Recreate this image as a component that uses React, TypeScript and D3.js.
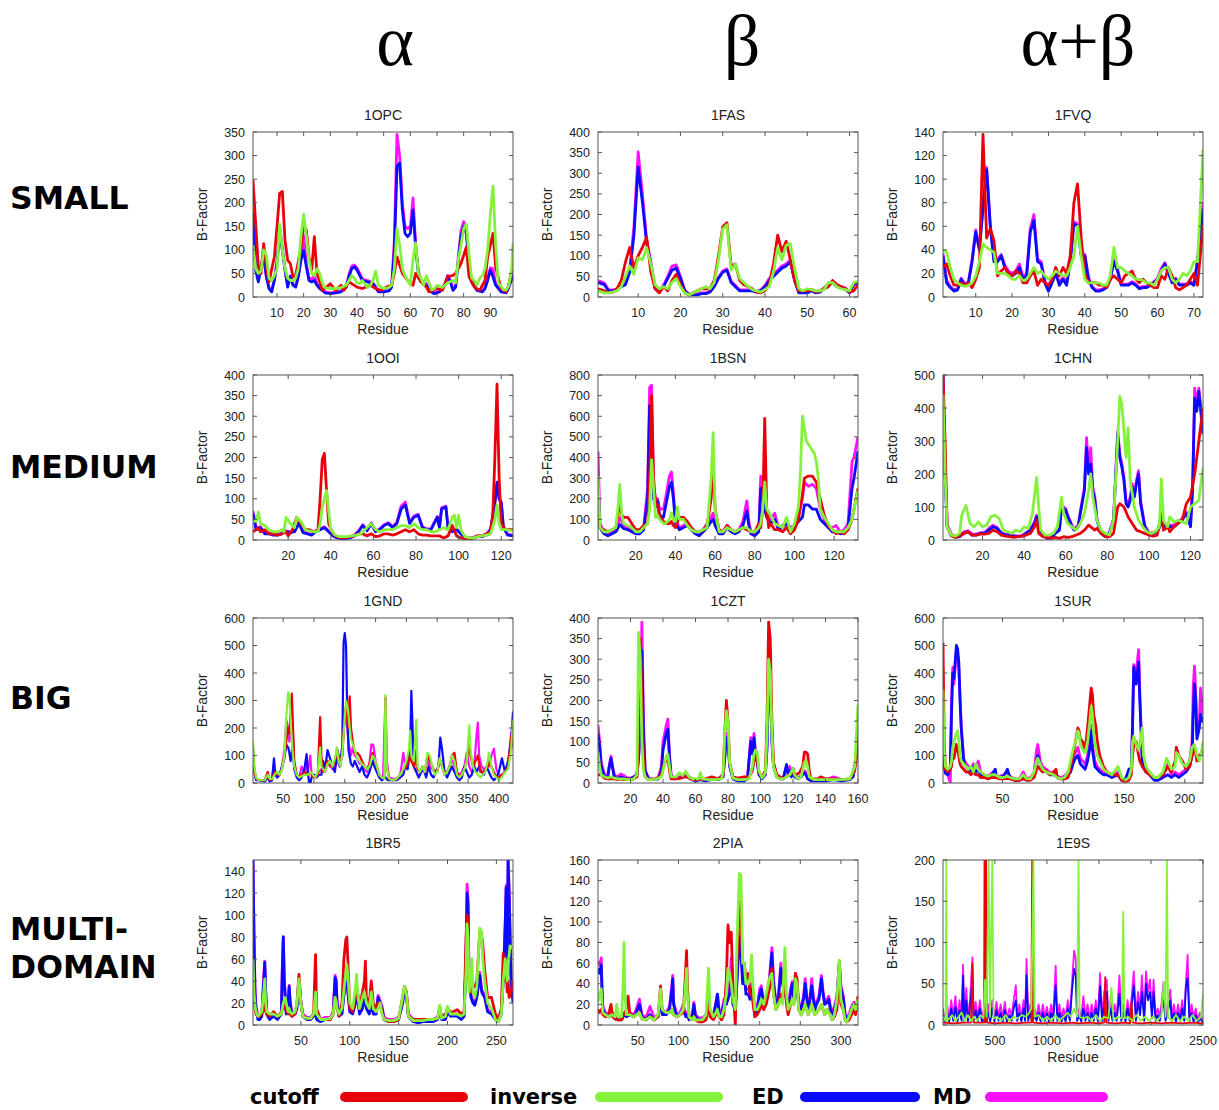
import React from 'react';
import * as d3 from 'd3';

// ---------- panel meta ----------
const PANEL_NAMES = ['1OPC', '1FAS', '1FVQ', '1OOI', '1BSN', '1CHN', '1GND', '1CZT', '1SUR', '1BR5', '2PIA', '1E9S'];
const X_DOMAINS = [[1, 98.5], [0.5, 62], [1, 72.5], [3.5, 125.5], [1, 132], [1, 126], [1, 423], [0, 160], [1, 215], [1, 267], [1, 321], [1, 2500]];
const Y_MAX = [350, 400, 140, 400, 800, 500, 600, 400, 600, 150, 160, 200];
const Y_TICKS = [
  [0, 50, 100, 150, 200, 250, 300, 350],
  [0, 50, 100, 150, 200, 250, 300, 350, 400],
  [0, 20, 40, 60, 80, 100, 120, 140],
  [0, 50, 100, 150, 200, 250, 300, 350, 400],
  [0, 100, 200, 300, 400, 500, 600, 700, 800],
  [0, 100, 200, 300, 400, 500],
  [0, 100, 200, 300, 400, 500, 600],
  [0, 50, 100, 150, 200, 250, 300, 350, 400],
  [0, 100, 200, 300, 400, 500, 600],
  [0, 20, 40, 60, 80, 100, 120, 140],
  [0, 20, 40, 60, 80, 100, 120, 140, 160],
  [0, 50, 100, 150, 200],
];
const X_TICKS = [
  [10, 20, 30, 40, 50, 60, 70, 80, 90],
  [10, 20, 30, 40, 50, 60],
  [10, 20, 30, 40, 50, 60, 70],
  [20, 40, 60, 80, 100, 120],
  [20, 40, 60, 80, 100, 120],
  [20, 40, 60, 80, 100, 120],
  [50, 100, 150, 200, 250, 300, 350, 400],
  [20, 40, 60, 80, 100, 120, 140, 160],
  [50, 100, 150, 200],
  [50, 100, 150, 200, 250],
  [50, 100, 150, 200, 250, 300],
  [500, 1000, 1500, 2000, 2500],
];
const COLUMN_HEADERS = ['α', 'β', 'α+β'];
const ROW_LABELS = [['SMALL'], ['MEDIUM'], ['BIG'], ['MULTI-', 'DOMAIN']];
const LEGEND_LABELS = ['cutoff', 'inverse', 'ED', 'MD'];

// ---------- series (residue, B-factor) pairs ----------
// 1OPC
const OPC_CUT = [1,248, 3,64, 4,50, 5,113, 6,64, 7,32, 9,85, 10,149, 11,220, 12,224, 13,120, 14,78, 15,71, 16,43, 17,46, 19,106, 20,149, 21,142, 22,85, 23,57, 24,128, 25,50, 26,32, 27,14, 30,28, 32,14, 34,25, 35,14, 37,32, 40,21, 42,18, 45,25, 47,18, 49,14, 51,21, 53,25, 54,50, 55,85, 57,50, 59,35, 61,25, 62,50, 64,32, 66,21, 67,11, 70,18, 72,14, 74,43, 76,46, 77,50, 79,71, 81,106, 82,43, 84,21, 86,14, 88,35, 89,85, 91,135, 92,64, 94,18, 96,11, 97,28, 98.5,67];
const OPC_INV = [1,110, 2,60, 3,50, 4,55, 5,100, 6,90, 7,40, 8,35, 9,45, 10,60, 11,155, 12,100, 13,60, 14,40, 15,35, 16,35, 17,40, 18,60, 19,130, 20,175, 21,130, 22,80, 23,50, 24,45, 25,60, 26,50, 27,30, 28,20, 30,18, 32,18, 34,20, 36,25, 37,35, 38,45, 39,40, 40,30, 41,28, 42,35, 44,20, 45,25, 46,35, 47,55, 48,25, 50,18, 52,20, 53,25, 54,60, 55,145, 56,110, 57,60, 58,45, 59,35, 60,25, 61,80, 62,115, 63,50, 64,40, 65,25, 66,45, 67,30, 68,15, 69,18, 70,25, 72,20, 74,30, 76,35, 77,30, 78,80, 79,110, 80,145, 81,155, 82,90, 83,40, 84,35, 85,25, 86,40, 87,45, 88,60, 89,100, 90,175, 91,235, 92,110, 93,30, 95,15, 96,15, 97,25, 98,60, 98.5,115];
const OPC_ED = [1,177, 2,57, 3,32, 4,64, 5,85, 6,43, 7,18, 8,11, 9,35, 10,71, 11,135, 12,99, 13,57, 14,21, 15,43, 16,25, 17,21, 18,43, 19,78, 20,99, 21,64, 22,35, 23,32, 24,35, 25,25, 26,18, 28,9, 30,7, 32,9, 34,11, 36,21, 37,43, 38,60, 39,64, 40,57, 41,46, 42,35, 44,32, 46,28, 48,11, 50,11, 52,13, 53,21, 54,99, 55,277, 56,284, 57,185, 58,135, 59,128, 60,135, 61,185, 62,106, 63,50, 64,32, 66,25, 67,14, 69,7, 71,11, 73,25, 74,43, 75,32, 76,14, 77,21, 78,78, 79,128, 80,149, 81,135, 82,64, 83,32, 85,14, 87,11, 88,18, 89,35, 90,57, 91,43, 92,25, 94,11, 96,9, 97,21, 98.5,46];
const OPC_MD = [1,200, 2,62, 3,36, 4,68, 5,90, 6,46, 7,20, 8,13, 9,38, 10,76, 11,150, 12,104, 13,60, 14,24, 15,45, 16,27, 17,23, 18,46, 19,85, 20,130, 21,70, 22,40, 23,38, 24,45, 25,28, 26,20, 28,11, 30,9, 32,11, 34,13, 36,24, 37,48, 38,65, 39,68, 40,62, 41,50, 42,38, 44,35, 46,30, 48,13, 50,13, 52,15, 53,24, 54,120, 55,345, 56,300, 57,200, 58,150, 59,145, 60,150, 61,210, 62,110, 63,55, 64,35, 66,28, 67,16, 69,9, 71,13, 73,28, 74,46, 75,35, 76,16, 77,24, 78,85, 79,140, 80,160, 81,150, 82,70, 83,35, 85,16, 87,13, 88,20, 89,40, 90,62, 91,60, 92,28, 94,13, 96,11, 97,24, 98.5,70];
// 1FAS
const FAS_CUT = [0.5,20, 2,15, 3,10, 4,12, 5,20, 6,40, 7,85, 8,120, 9,70, 10,100, 11,120, 12,145, 13,60, 14,20, 15,10, 16,25, 17,15, 18,40, 19,55, 20,30, 21,10, 22,5, 23,10, 24,15, 25,20, 26,20, 27,20, 28,40, 29,100, 30,170, 31,180, 32,75, 33,80, 34,40, 35,30, 36,25, 37,20, 38,12, 39,10, 40,15, 41,30, 42,80, 43,150, 44,110, 45,135, 46,90, 47,40, 48,15, 49,15, 50,15, 51,18, 52,12, 53,15, 54,20, 55,25, 56,40, 57,30, 58,25, 59,20, 60,12, 61,15, 62,30];
const FAS_INV = [0.5,15, 2,10, 3,10, 4,12, 5,15, 6,25, 7,50, 8,75, 9,55, 10,95, 11,90, 12,120, 13,80, 14,30, 15,20, 16,25, 17,20, 18,35, 19,45, 20,25, 21,10, 22,5, 23,10, 24,15, 25,20, 26,25, 27,20, 28,35, 29,90, 30,165, 31,175, 32,65, 33,80, 34,45, 35,35, 36,25, 37,18, 38,15, 39,12, 40,18, 41,25, 42,60, 43,120, 44,90, 45,125, 46,130, 47,70, 48,20, 49,15, 50,20, 51,18, 52,15, 53,15, 54,18, 55,35, 56,35, 57,25, 58,20, 59,18, 60,15, 61,35, 62,38];
const FAS_ED = [0.5,35, 2,30, 3,15, 4,15, 5,18, 6,25, 7,30, 8,60, 9,150, 10,315, 11,230, 12,130, 13,80, 14,20, 15,15, 16,25, 17,45, 18,65, 19,70, 20,45, 21,15, 22,5, 23,5, 24,5, 25,8, 26,8, 27,12, 28,25, 29,45, 30,60, 31,65, 32,35, 33,25, 34,15, 35,15, 36,15, 37,15, 38,12, 39,15, 40,25, 41,40, 42,50, 43,60, 44,70, 45,75, 46,85, 47,40, 48,10, 49,10, 50,10, 51,15, 52,10, 53,12, 54,20, 55,30, 56,35, 57,25, 58,22, 59,20, 60,10, 61,30, 62,35];
const FAS_MD = [0.5,40, 2,34, 3,17, 4,17, 5,20, 6,28, 7,33, 8,65, 9,170, 10,352, 11,250, 12,140, 13,85, 14,22, 15,17, 16,28, 17,50, 18,75, 19,78, 20,50, 21,17, 22,7, 23,7, 24,7, 25,10, 26,10, 27,14, 28,28, 29,48, 30,63, 31,68, 32,38, 33,28, 34,17, 35,17, 36,17, 37,17, 38,14, 39,17, 40,28, 41,45, 42,55, 43,65, 44,75, 45,80, 46,90, 47,43, 48,12, 49,12, 50,12, 51,17, 52,12, 53,14, 54,22, 55,33, 56,38, 57,28, 58,25, 59,22, 60,12, 61,32, 62,37];
// 1FVQ
const FVQ_CUT = [1,25, 2,28, 3,18, 4,10, 5,10, 6,12, 7,10, 8,12, 9,8, 10,15, 11,25, 12,138, 13,50, 14,58, 15,48, 16,18, 17,22, 18,25, 19,20, 20,18, 21,22, 22,20, 23,12, 24,12, 25,18, 26,22, 27,10, 28,15, 29,12, 30,10, 31,15, 32,25, 33,18, 34,25, 35,20, 36,35, 37,80, 38,96, 39,50, 40,20, 41,12, 42,12, 43,12, 44,10, 45,10, 46,8, 47,15, 48,18, 49,15, 50,12, 51,18, 52,20, 53,22, 54,15, 55,12, 56,15, 57,12, 58,10, 59,8, 60,8, 61,18, 62,15, 63,25, 64,18, 65,8, 66,6, 67,8, 68,10, 69,15, 70,20, 71,10, 72.5,60];
const FVQ_INV = [1,40, 2,38, 3,25, 4,15, 5,12, 6,10, 7,9, 8,10, 9,12, 10,18, 11,30, 12,45, 13,42, 14,40, 15,38, 16,20, 17,20, 18,20, 19,18, 20,15, 21,15, 22,18, 23,14, 24,15, 25,20, 26,25, 27,20, 28,22, 29,18, 30,15, 31,18, 32,22, 33,20, 34,18, 35,18, 36,25, 37,35, 38,60, 39,35, 40,15, 41,12, 42,12, 43,12, 44,12, 45,10, 46,10, 47,18, 48,42, 49,25, 50,25, 51,22, 52,20, 53,18, 54,15, 55,15, 56,14, 57,12, 58,12, 59,10, 60,15, 61,22, 62,25, 63,25, 64,15, 65,12, 66,15, 67,20, 68,18, 69,22, 70,30, 71,30, 72.5,125];
const FVQ_ED = [1,35, 2,12, 3,8, 4,5, 5,6, 6,15, 7,10, 8,12, 9,30, 10,55, 11,40, 12,75, 13,108, 14,60, 15,30, 16,30, 17,35, 18,25, 19,20, 20,18, 21,20, 22,25, 23,15, 24,18, 25,55, 26,65, 27,30, 28,28, 29,12, 30,5, 31,12, 32,20, 33,10, 34,15, 35,10, 36,30, 37,62, 38,60, 39,35, 40,35, 41,15, 42,8, 43,5, 44,5, 45,6, 46,8, 47,15, 48,30, 49,22, 50,10, 51,10, 52,10, 53,12, 54,10, 55,7, 56,8, 57,8, 58,10, 59,12, 60,15, 61,22, 62,28, 63,20, 64,12, 65,15, 66,10, 67,10, 68,10, 69,12, 70,10, 71,30, 72.5,75];
const FVQ_MD = [1,37, 2,14, 3,9, 4,6, 5,7, 6,16, 7,11, 8,13, 9,32, 10,57, 11,42, 12,78, 13,110, 14,62, 15,32, 16,32, 17,36, 18,27, 19,22, 20,20, 21,22, 22,28, 23,17, 24,20, 25,58, 26,70, 27,32, 28,30, 29,14, 30,7, 31,14, 32,22, 33,12, 34,17, 35,12, 36,32, 37,64, 38,62, 39,37, 40,36, 41,17, 42,9, 43,6, 44,6, 45,7, 46,9, 47,16, 48,32, 49,24, 50,11, 51,11, 52,11, 53,13, 54,11, 55,8, 56,9, 57,9, 58,11, 59,13, 60,16, 61,24, 62,29, 63,21, 64,13, 65,16, 66,11, 67,11, 68,11, 69,13, 70,11, 71,32, 72.5,80];
// 1OOI
const OOI_CUT = [3.5,20, 5,25, 6,30, 7,20, 9,25, 11,15, 13,15, 15,12, 17,15, 19,20, 20,10, 22,25, 24,55, 26,40, 28,25, 30,25, 32,20, 34,25, 35,100, 36,195, 37,210, 38,120, 39,40, 41,15, 43,8, 45,5, 47,5, 49,8, 51,10, 53,15, 55,15, 57,10, 59,15, 61,8, 63,10, 65,15, 67,15, 69,12, 71,15, 73,20, 75,25, 77,20, 79,25, 81,15, 83,12, 85,12, 87,10, 89,10, 91,10, 93,5, 95,10, 97,35, 99,10, 101,5, 103,3, 105,3, 107,5, 109,10, 111,10, 113,15, 115,20, 116,60, 117,200, 118,378, 119,150, 120,40, 122,25, 125.5,25];
const OOI_INV = [3.5,45, 5,45, 6,68, 7,40, 9,35, 11,25, 13,20, 15,20, 17,25, 18,20, 19,55, 21,40, 23,30, 24,55, 26,45, 28,25, 30,22, 32,20, 34,20, 35,40, 36,80, 37,100, 38,120, 39,70, 40,25, 42,12, 44,8, 46,8, 48,8, 50,10, 52,12, 54,15, 56,25, 58,35, 59,40, 61,25, 63,20, 65,25, 67,25, 69,25, 71,30, 73,35, 75,35, 77,30, 79,40, 81,30, 83,25, 85,25, 87,20, 89,20, 91,25, 93,30, 95,25, 97,55, 98,60, 99,30, 100,60, 101,25, 103,8, 105,5, 107,5, 109,8, 111,10, 113,12, 115,15, 117,50, 118,85, 119,40, 120,25, 122,25, 125.5,22];
const OOI_ED = [3.5,65, 5,25, 7,30, 9,15, 11,15, 13,12, 15,12, 17,15, 19,20, 21,18, 23,20, 25,40, 27,18, 29,15, 31,12, 33,20, 35,25, 37,30, 39,20, 41,10, 43,5, 45,3, 47,3, 49,5, 51,10, 53,20, 55,35, 57,22, 59,40, 61,20, 63,25, 65,35, 67,40, 69,30, 71,40, 73,75, 75,85, 77,40, 79,55, 81,60, 83,30, 85,25, 87,25, 89,45, 90,55, 91,30, 92,75, 94,80, 95,30, 97,20, 99,25, 101,15, 103,5, 105,3, 107,5, 109,8, 111,8, 113,12, 115,25, 117,90, 118,140, 119,100, 120,90, 121,30, 123,12, 125.5,10];
const OOI_MD = [3.5,70, 5,28, 7,32, 9,17, 11,17, 13,14, 15,14, 17,17, 19,22, 21,20, 23,22, 25,43, 27,20, 29,17, 31,14, 33,22, 35,27, 37,32, 39,22, 41,12, 43,7, 45,5, 47,5, 49,7, 51,12, 53,22, 55,37, 57,24, 59,42, 61,22, 63,27, 65,37, 67,42, 69,32, 71,43, 73,82, 75,92, 77,43, 79,58, 81,62, 83,32, 85,27, 87,27, 89,47, 90,57, 91,32, 92,78, 94,82, 95,32, 97,22, 99,27, 101,17, 103,7, 105,5, 107,7, 109,10, 111,10, 113,14, 115,27, 117,92, 118,135, 119,100, 120,92, 121,32, 123,14, 125.5,12];
// 1BSN
const BSN_CUT = [1,160, 2,60, 4,50, 6,40, 8,50, 10,60, 12,180, 13,120, 14,110, 16,110, 18,80, 20,50, 22,50, 24,70, 26,80, 27,300, 28,700, 29,300, 30,180, 31,170, 32,120, 34,90, 35,80, 37,80, 38,90, 39,70, 40,60, 42,110, 44,110, 46,90, 48,60, 50,40, 52,40, 54,50, 56,70, 58,200, 59,370, 60,150, 62,50, 64,40, 66,70, 68,50, 70,40, 72,50, 74,60, 76,50, 78,40, 80,40, 82,80, 83,60, 84,150, 85,590, 86,150, 87,60, 88,80, 90,50, 92,50, 94,40, 96,60, 98,30, 100,50, 102,100, 104,220, 105,300, 107,310, 109,310, 111,280, 113,200, 115,120, 117,70, 119,50, 121,30, 123,40, 125,30, 127,50, 129,100, 130,150, 132,250];
const BSN_INV = [1,310, 2,60, 4,40, 6,40, 8,50, 10,60, 11,150, 12,270, 13,120, 14,80, 16,70, 18,60, 20,40, 22,40, 24,60, 26,80, 27,150, 28,390, 29,250, 30,110, 31,120, 32,100, 34,80, 35,80, 37,100, 38,130, 39,100, 40,90, 41,160, 42,100, 44,100, 46,70, 48,50, 50,40, 52,40, 54,50, 56,60, 58,300, 59,520, 60,150, 62,40, 64,40, 66,60, 68,50, 70,40, 72,50, 74,60, 76,60, 78,40, 80,40, 82,60, 83,80, 84,150, 85,280, 86,150, 88,120, 90,80, 92,70, 94,60, 96,110, 98,40, 100,80, 102,160, 103,330, 104,600, 106,480, 108,450, 110,420, 111,380, 112,300, 113,150, 115,110, 117,80, 119,50, 121,40, 123,40, 125,40, 127,60, 129,100, 130,150, 132,240];
const BSN_ED = [1,280, 2,60, 4,30, 6,20, 8,30, 10,40, 12,75, 14,55, 16,50, 18,40, 20,30, 22,30, 24,50, 26,200, 27,650, 28,450, 29,200, 30,160, 31,190, 32,120, 34,110, 35,160, 37,260, 38,280, 39,200, 40,80, 42,50, 44,60, 46,70, 48,50, 50,30, 52,20, 54,40, 56,60, 58,90, 59,100, 60,70, 62,30, 64,30, 66,60, 68,40, 70,30, 72,40, 74,70, 76,140, 77,70, 78,30, 80,20, 82,40, 83,250, 84,200, 85,150, 86,110, 88,80, 90,100, 92,50, 94,60, 96,80, 98,50, 100,60, 102,90, 104,110, 105,170, 107,170, 109,150, 111,150, 113,100, 115,80, 117,60, 119,40, 121,40, 123,30, 125,35, 127,60, 129,250, 130,300, 132,430];
const BSN_MD = [1,430, 2,80, 4,40, 6,30, 8,40, 10,50, 12,110, 14,70, 16,60, 18,50, 20,40, 22,40, 24,60, 26,250, 27,740, 28,750, 29,250, 30,200, 31,200, 32,150, 34,150, 35,200, 37,310, 38,330, 39,230, 40,100, 42,60, 44,70, 46,80, 48,60, 50,40, 52,30, 54,50, 56,80, 58,110, 59,130, 60,80, 62,40, 64,40, 66,70, 68,50, 70,40, 72,50, 74,90, 76,190, 77,90, 78,40, 80,30, 82,50, 83,310, 84,220, 85,150, 86,150, 88,100, 90,130, 92,60, 94,70, 96,90, 98,60, 100,70, 102,120, 104,200, 105,280, 107,260, 109,270, 111,250, 113,150, 115,100, 117,70, 119,60, 121,70, 123,40, 125,50, 127,80, 129,380, 130,400, 132,500];
// 1CHN
const CHN_CUT = [1,500, 2,300, 3,40, 5,12, 7,8, 9,12, 11,20, 13,25, 15,15, 17,15, 19,18, 21,18, 23,20, 25,30, 27,25, 29,15, 31,12, 33,10, 35,8, 37,10, 39,12, 41,15, 43,20, 45,40, 46,60, 47,20, 49,10, 51,8, 53,5, 55,8, 57,5, 59,10, 61,8, 63,10, 65,15, 67,20, 69,30, 71,45, 72,40, 74,30, 75,35, 77,20, 79,10, 81,10, 83,20, 85,100, 86,110, 88,100, 90,70, 92,50, 94,30, 96,25, 98,20, 100,15, 102,12, 104,15, 106,80, 107,30, 109,40, 110,25, 112,40, 114,50, 116,60, 118,110, 120,130, 122,200, 124,300, 126,400];
const CHN_INV = [1,440, 2,200, 3,40, 5,15, 7,12, 9,20, 10,75, 12,105, 14,50, 16,40, 18,55, 20,40, 22,45, 24,70, 26,75, 28,65, 30,30, 32,25, 34,20, 36,30, 38,25, 40,40, 42,35, 44,80, 46,190, 47,100, 48,30, 50,15, 52,15, 54,20, 56,40, 58,130, 59,80, 61,50, 63,40, 65,30, 67,50, 69,80, 71,150, 72,200, 73,130, 75,60, 77,30, 79,20, 81,15, 83,60, 85,300, 86,435, 87,410, 88,330, 89,250, 90,340, 91,180, 93,100, 95,60, 97,40, 99,25, 101,20, 103,25, 105,40, 106,185, 107,60, 109,40, 110,70, 112,55, 114,60, 116,55, 118,50, 120,100, 122,110, 124,120, 126,220];
const CHN_ED = [1,500, 2,200, 3,40, 5,15, 7,8, 9,10, 11,20, 13,25, 15,15, 17,15, 19,20, 21,20, 23,30, 25,40, 27,35, 29,20, 31,15, 33,15, 35,12, 37,10, 39,12, 41,20, 43,30, 45,50, 46,70, 47,40, 49,15, 51,5, 53,5, 55,20, 57,30, 58,100, 59,95, 60,90, 61,70, 63,40, 64,30, 66,40, 67,80, 69,150, 70,280, 71,200, 72,230, 73,150, 74,120, 75,60, 77,20, 79,10, 81,20, 83,60, 85,320, 86,250, 87,220, 88,180, 89,110, 90,100, 91,120, 92,160, 93,130, 94,170, 95,200, 96,110, 98,40, 100,20, 102,20, 104,25, 106,50, 108,40, 110,40, 112,40, 114,50, 116,60, 118,80, 120,40, 121,150, 122,430, 123,390, 124,450, 126,320];
const CHN_MD = [1,500, 2,210, 3,45, 5,18, 7,10, 9,12, 11,25, 13,28, 15,18, 17,18, 19,22, 21,22, 23,35, 25,45, 27,38, 29,22, 31,17, 33,17, 35,14, 37,12, 39,14, 41,22, 43,33, 45,55, 46,75, 47,45, 49,17, 51,7, 53,7, 55,22, 57,35, 58,105, 59,100, 60,95, 61,75, 63,45, 64,33, 66,45, 67,85, 69,160, 70,310, 71,220, 72,280, 73,160, 74,130, 75,65, 77,22, 79,12, 81,22, 83,65, 85,330, 86,260, 87,230, 88,190, 89,120, 90,110, 91,130, 92,170, 93,140, 94,180, 95,210, 96,120, 98,45, 100,22, 102,22, 104,28, 106,55, 108,45, 110,45, 112,45, 114,55, 116,65, 118,85, 120,45, 121,170, 122,460, 123,410, 124,460, 126,340];
// 1GND
const GND_CUT = [1,130, 3,50, 6,15, 10,10, 15,10, 20,10, 25,40, 28,10, 32,15, 36,40, 40,30, 44,30, 48,50, 52,100, 55,150, 58,200, 60,180, 62,250, 64,325, 66,200, 68,80, 72,30, 76,20, 80,30, 85,40, 90,30, 95,40, 98,20, 102,20, 106,30, 110,240, 112,100, 115,40, 118,50, 122,80, 126,60, 130,60, 134,80, 138,120, 142,80, 146,100, 150,250, 152,280, 155,200, 158,315, 160,200, 163,150, 166,110, 170,110, 174,100, 178,80, 182,60, 186,50, 190,70, 195,110, 198,80, 202,60, 206,30, 210,20, 214,15, 216,310, 218,60, 222,15, 228,10, 234,15, 240,30, 245,50, 250,60, 254,80, 256,100, 258,80, 262,60, 266,120, 268,50, 272,40, 276,60, 280,40, 284,100, 288,80, 292,60, 296,40, 300,40, 304,90, 308,60, 312,30, 316,40, 320,60, 324,100, 328,110, 332,40, 336,20, 340,30, 344,50, 348,80, 352,150, 354,100, 358,60, 362,80, 366,100, 370,40, 374,40, 378,50, 382,60, 384,80, 388,60, 392,40, 396,20, 400,20, 405,30, 410,40, 415,60, 420,170, 423,130];
const GND_INV = [1,150, 3,60, 6,20, 10,10, 15,10, 20,10, 25,30, 28,15, 32,15, 36,30, 40,40, 44,30, 48,50, 52,100, 55,240, 58,330, 60,320, 62,230, 65,120, 68,60, 72,30, 76,20, 80,25, 85,30, 90,30, 95,40, 98,30, 102,20, 106,40, 110,130, 112,60, 115,50, 118,40, 122,70, 126,80, 130,60, 134,90, 137,130, 140,80, 143,60, 146,110, 150,240, 152,300, 155,270, 158,200, 160,160, 163,140, 166,120, 170,90, 174,80, 178,70, 182,60, 186,50, 190,60, 195,100, 198,90, 202,60, 206,30, 210,20, 214,15, 216,320, 218,60, 222,15, 228,10, 234,15, 240,30, 245,50, 250,80, 254,120, 256,190, 258,100, 262,80, 266,230, 268,60, 272,40, 276,60, 280,40, 284,110, 288,100, 292,60, 296,30, 300,40, 304,90, 308,60, 312,30, 316,40, 320,60, 324,100, 328,80, 332,30, 336,20, 340,30, 344,50, 348,80, 352,210, 354,120, 358,60, 362,40, 366,30, 370,20, 374,30, 378,40, 382,80, 384,110, 388,60, 392,30, 396,20, 400,10, 405,20, 410,40, 415,50, 420,120, 423,230];
const GND_ED = [1,120, 3,40, 6,10, 10,10, 15,8, 20,5, 25,20, 28,5, 32,10, 35,90, 37,40, 40,20, 44,30, 48,60, 52,90, 55,140, 58,130, 60,110, 62,80, 65,130, 68,50, 72,20, 76,10, 80,20, 85,60, 88,105, 90,40, 93,-15, 96,20, 100,30, 104,20, 108,30, 112,30, 115,80, 118,50, 122,120, 126,90, 130,60, 134,40, 138,120, 142,60, 146,140, 148,510, 150,545, 152,500, 154,250, 156,120, 160,70, 163,60, 166,80, 170,60, 174,40, 178,60, 182,30, 186,20, 190,40, 195,80, 198,60, 202,40, 206,20, 210,10, 216,20, 220,10, 228,10, 234,10, 240,20, 245,30, 248,60, 252,50, 256,120, 258,335, 260,200, 262,60, 266,40, 270,20, 274,40, 278,50, 282,20, 286,60, 290,30, 294,20, 298,40, 302,60, 305,165, 308,120, 312,40, 316,20, 320,40, 324,60, 328,40, 332,20, 336,10, 340,20, 344,60, 348,40, 352,20, 356,30, 360,60, 364,40, 368,60, 372,40, 376,30, 380,60, 384,40, 388,20, 392,10, 396,20, 400,40, 405,90, 410,40, 415,80, 420,150, 423,260];
const GND_MD = [1,100, 3,40, 6,15, 10,10, 15,10, 20,10, 25,20, 28,10, 32,20, 35,70, 37,30, 40,20, 44,30, 48,60, 52,120, 55,230, 58,200, 60,150, 62,180, 65,200, 68,60, 72,30, 76,20, 80,60, 85,40, 88,60, 90,40, 94,100, 96,30, 100,30, 104,30, 108,40, 112,50, 115,60, 118,40, 122,80, 126,70, 130,50, 134,60, 138,80, 142,60, 146,100, 148,200, 150,250, 152,230, 154,200, 156,150, 160,100, 163,130, 166,100, 170,90, 174,70, 178,70, 182,50, 186,40, 190,70, 193,140, 196,140, 200,80, 204,40, 208,20, 212,15, 216,310, 218,80, 222,20, 228,15, 234,15, 240,30, 245,110, 248,60, 252,60, 256,150, 258,200, 260,100, 264,80, 268,50, 272,40, 276,50, 280,40, 284,80, 288,60, 292,50, 296,40, 300,50, 304,80, 308,60, 312,40, 316,40, 320,60, 324,90, 328,60, 332,40, 336,30, 340,40, 344,60, 348,110, 352,60, 356,40, 360,60, 364,180, 366,220, 368,100, 372,60, 376,50, 380,60, 384,60, 388,100, 392,125, 396,50, 400,30, 405,30, 410,40, 415,60, 420,180, 423,200];
// 1CZT
const CZT_CUT = [0,20, 2,20, 4,12, 6,10, 8,10, 10,10, 12,8, 14,10, 16,8, 18,8, 20,8, 22,10, 24,15, 25,100, 26,350, 27,200, 28,60, 29,15, 31,8, 35,8, 39,20, 40,40, 42,55, 43,60, 44,30, 45,10, 48,10, 51,12, 53,15, 55,15, 58,8, 62,8, 66,10, 70,15, 74,10, 77,20, 78,120, 79,200, 80,150, 81,50, 83,15, 86,12, 90,15, 93,15, 95,30, 97,75, 98,60, 99,25, 101,15, 103,30, 104,150, 105,390, 106,350, 107,150, 108,50, 110,20, 112,15, 114,10, 116,15, 118,20, 120,25, 122,20, 124,25, 126,40, 127,75, 128,75, 129,70, 130,30, 131,10, 135,10, 137,15, 140,10, 145,10, 150,8, 155,10, 158,30, 160,100];
const CZT_INV = [0,75, 1,40, 2,20, 4,15, 6,12, 8,15, 10,12, 12,10, 14,10, 16,10, 18,8, 20,8, 22,10, 24,20, 25,365, 26,300, 27,100, 28,30, 29,15, 31,8, 35,8, 39,15, 40,30, 42,65, 43,70, 44,40, 45,15, 48,15, 50,25, 52,18, 54,28, 56,15, 58,10, 62,10, 63,25, 64,10, 68,8, 72,8, 76,10, 77,25, 78,120, 79,175, 80,150, 81,50, 83,12, 86,8, 90,8, 93,10, 95,40, 96,70, 97,80, 98,75, 99,30, 101,12, 103,25, 104,120, 105,300, 106,270, 107,120, 108,40, 110,15, 112,10, 114,10, 116,15, 118,20, 120,35, 121,20, 123,10, 125,15, 127,50, 128,55, 129,40, 130,15, 133,8, 138,8, 142,8, 146,8, 150,8, 155,10, 158,40, 160,190];
const CZT_ED = [0,120, 1,90, 2,40, 4,15, 6,15, 7,40, 8,60, 9,35, 10,15, 12,10, 14,15, 16,12, 18,10, 20,10, 22,15, 24,20, 25,60, 26,130, 27,320, 28,120, 29,30, 31,10, 33,8, 35,8, 37,10, 39,30, 40,80, 42,120, 43,130, 44,60, 45,15, 47,10, 50,12, 53,15, 55,15, 58,8, 60,5, 63,8, 66,5, 70,8, 74,8, 77,15, 78,60, 79,110, 80,100, 81,40, 83,10, 86,5, 90,5, 92,10, 94,100, 95,70, 96,110, 97,60, 98,50, 99,20, 101,10, 103,20, 104,80, 105,250, 106,240, 107,100, 108,40, 110,15, 112,10, 114,10, 116,45, 117,20, 118,30, 119,15, 120,35, 121,15, 123,10, 125,15, 127,25, 128,20, 129,10, 131,5, 135,5, 140,5, 145,8, 150,5, 155,8, 157,15, 159,60, 160,140];
const CZT_MD = [0,140, 1,100, 2,50, 4,20, 6,18, 7,45, 8,65, 9,40, 10,20, 12,15, 14,22, 16,18, 18,12, 20,12, 22,15, 24,20, 25,70, 26,160, 27,390, 28,150, 29,30, 31,12, 33,10, 35,10, 37,12, 39,40, 40,100, 42,140, 43,155, 44,70, 45,20, 47,12, 50,15, 53,18, 55,18, 58,10, 60,8, 63,10, 66,8, 70,10, 74,10, 77,20, 78,70, 79,120, 80,100, 81,45, 83,15, 86,8, 90,8, 92,12, 94,110, 95,80, 96,120, 97,70, 98,55, 99,25, 101,12, 103,25, 104,100, 105,300, 106,250, 107,110, 108,45, 110,20, 112,12, 114,12, 116,40, 117,25, 118,40, 119,20, 120,35, 121,18, 123,12, 125,18, 127,30, 128,25, 129,12, 131,8, 135,8, 140,8, 145,15, 150,8, 155,10, 157,20, 159,70, 160,150];
// 1SUR
const SUR_CUT = [1,510, 2,150, 3,50, 5,40, 7,50, 8,60, 9,100, 10,90, 12,140, 13,120, 14,100, 15,70, 16,60, 18,50, 20,40, 22,40, 24,30, 26,40, 28,30, 30,30, 32,20, 35,20, 38,15, 41,20, 44,20, 48,15, 51,15, 54,20, 56,15, 60,10, 64,10, 67,15, 70,10, 73,10, 76,20, 78,50, 79,60, 81,50, 83,40, 86,45, 89,30, 92,40, 94,50, 95,20, 98,15, 101,15, 104,20, 106,60, 108,100, 110,150, 112,200, 113,190, 114,160, 116,150, 118,120, 120,200, 122,300, 123,345, 124,320, 125,250, 127,200, 128,150, 130,100, 133,60, 136,40, 140,30, 145,30, 148,10, 151,5, 154,10, 156,30, 157,100, 158,140, 160,150, 162,100, 163,80, 165,60, 168,40, 171,30, 175,20, 178,20, 182,30, 186,60, 189,40, 192,80, 193,130, 195,100, 198,80, 201,50, 204,60, 206,100, 207,120, 208,130, 210,80, 212,100, 214,110, 215,140];
const SUR_INV = [1,340, 2,120, 3,60, 5,50, 7,60, 8,80, 9,130, 10,150, 12,180, 13,190, 14,150, 15,100, 16,80, 18,70, 20,60, 22,50, 24,60, 26,40, 28,70, 30,50, 32,40, 35,30, 38,25, 41,30, 44,30, 48,20, 51,20, 54,25, 56,20, 60,15, 64,15, 67,30, 70,15, 73,15, 76,40, 78,80, 79,90, 81,70, 83,50, 86,40, 89,35, 92,30, 95,20, 98,15, 101,20, 104,40, 106,80, 108,120, 110,150, 112,190, 113,180, 114,140, 116,120, 118,110, 120,150, 122,230, 123,280, 124,250, 125,180, 127,120, 128,100, 130,80, 133,50, 136,40, 140,30, 145,60, 148,20, 151,10, 154,20, 156,50, 157,150, 158,170, 160,140, 162,120, 163,140, 165,200, 166,100, 168,60, 171,40, 175,20, 178,20, 182,40, 185,90, 189,50, 192,60, 193,110, 195,100, 198,70, 201,60, 204,80, 206,130, 208,140, 210,100, 212,80, 214,120, 215,150];
const SUR_ED = [1,200, 2,60, 3,35, 5,30, 7,60, 8,250, 9,400, 10,380, 12,500, 13,490, 14,440, 15,300, 16,200, 18,80, 20,60, 22,50, 24,40, 26,60, 28,40, 30,50, 32,30, 35,25, 38,20, 41,30, 44,50, 45,20, 48,20, 51,25, 54,50, 56,20, 60,10, 64,10, 67,20, 70,10, 73,15, 76,30, 78,80, 79,100, 81,70, 83,50, 86,40, 89,30, 92,30, 95,20, 98,15, 101,20, 104,30, 106,40, 108,70, 110,90, 112,100, 114,70, 116,60, 118,50, 120,80, 122,130, 123,190, 124,120, 126,60, 128,50, 130,40, 133,30, 136,30, 140,20, 145,30, 148,10, 151,10, 154,50, 156,50, 157,200, 158,420, 160,360, 162,440, 163,300, 165,80, 168,40, 171,30, 175,10, 178,10, 182,20, 186,30, 189,20, 192,30, 195,20, 198,30, 201,40, 204,60, 206,100, 207,250, 208,360, 209,300, 210,160, 212,200, 213,250, 215,220];
const SUR_MD = [1,220, 2,70, 3,40, 5,30, 7,0, 8,300, 9,420, 10,360, 12,480, 13,470, 14,420, 15,320, 16,210, 18,90, 20,70, 22,60, 24,50, 26,70, 28,60, 30,80, 32,40, 35,30, 38,25, 41,35, 44,45, 45,25, 48,25, 51,30, 54,40, 56,25, 60,15, 64,15, 67,40, 70,15, 73,20, 76,40, 78,120, 79,140, 81,80, 83,60, 86,50, 89,40, 92,35, 95,25, 98,20, 101,25, 104,40, 106,60, 108,90, 110,110, 112,130, 114,90, 116,80, 118,70, 120,100, 122,150, 123,210, 124,140, 126,80, 128,60, 130,50, 133,40, 136,35, 140,25, 145,40, 148,15, 151,15, 154,40, 156,60, 157,220, 158,430, 160,400, 162,485, 163,330, 165,90, 168,50, 171,40, 175,15, 178,15, 182,25, 186,70, 189,30, 192,40, 195,30, 198,40, 201,50, 204,80, 206,150, 207,350, 208,425, 209,330, 210,180, 212,220, 213,345, 215,250];
// 1BR5
const BR5_CUT = [1,35, 2,20, 3,15, 4,10, 6,8, 8,8, 10,10, 12,15, 13,20, 14,12, 15,10, 18,8, 22,12, 26,8, 30,10, 31,15, 32,20, 33,15, 35,15, 37,10, 38,12, 39,10, 41,8, 44,10, 46,20, 48,46, 50,20, 52,8, 56,6, 60,6, 63,10, 65,64, 66,15, 70,5, 75,5, 80,5, 83,10, 85,25, 86,20, 87,15, 89,8, 92,20, 94,60, 96,78, 97,80, 98,60, 100,15, 103,12, 106,25, 108,30, 110,15, 113,30, 115,40, 116,58, 117,25, 120,20, 122,40, 124,20, 127,15, 129,20, 131,20, 133,12, 135,5, 140,3, 145,3, 150,5, 153,20, 156,35, 158,30, 160,8, 165,5, 170,5, 175,5, 180,5, 185,5, 190,6, 192,12, 194,8, 198,10, 200,15, 203,12, 206,12, 210,14, 214,10, 217,12, 219,80, 220,100, 221,95, 222,40, 224,30, 226,35, 228,35, 230,40, 233,85, 235,80, 236,75, 238,50, 241,25, 245,25, 249,10, 252,5, 255,15, 257,65, 259,40, 260,60, 261,30, 262,40, 263,25, 265,30, 267,40];
const BR5_INV = [1,60, 2,30, 3,18, 4,12, 6,8, 8,10, 10,12, 12,30, 13,42, 14,20, 15,12, 18,10, 22,10, 26,8, 30,10, 31,15, 32,20, 34,25, 35,20, 37,12, 38,15, 39,12, 41,10, 44,12, 46,20, 48,42, 50,20, 52,8, 56,6, 60,6, 63,10, 65,30, 66,10, 70,5, 75,5, 80,6, 83,10, 85,25, 86,22, 87,15, 89,10, 92,15, 95,40, 97,55, 98,45, 100,20, 103,15, 106,35, 107,46, 108,30, 110,15, 113,25, 115,30, 117,20, 120,15, 122,30, 124,15, 127,12, 129,15, 131,20, 133,10, 135,5, 140,4, 145,4, 150,6, 153,20, 156,35, 158,28, 160,8, 165,4, 170,4, 175,4, 180,5, 185,5, 190,6, 192,18, 194,6, 198,8, 200,17, 203,10, 206,10, 210,10, 214,8, 217,10, 219,50, 220,92, 221,80, 222,30, 224,40, 225,60, 226,30, 228,25, 230,35, 233,88, 235,85, 236,60, 238,40, 241,20, 245,15, 249,5, 252,3, 255,10, 257,40, 259,60, 260,50, 261,40, 262,55, 264,72, 267,70];
const BR5_ED = [1,150, 2,80, 3,30, 4,15, 6,5, 8,5, 10,8, 12,40, 13,57, 14,30, 15,10, 18,5, 22,8, 26,5, 30,10, 31,50, 32,80, 33,40, 35,10, 37,20, 38,35, 39,20, 41,8, 44,10, 46,15, 48,40, 50,20, 52,8, 56,5, 60,5, 63,8, 65,20, 66,5, 70,3, 75,5, 80,5, 83,10, 85,43, 86,40, 87,20, 89,8, 92,10, 95,35, 97,40, 98,30, 100,12, 103,10, 106,20, 108,25, 110,10, 113,15, 115,25, 117,15, 120,10, 122,20, 124,10, 127,10, 129,25, 131,20, 133,15, 135,5, 140,3, 145,3, 150,5, 153,15, 156,30, 158,25, 160,8, 165,3, 170,2, 175,3, 180,3, 185,3, 190,5, 192,15, 194,5, 198,5, 200,12, 203,8, 206,8, 210,8, 214,5, 217,8, 219,60, 220,120, 221,110, 222,40, 224,25, 226,20, 228,18, 230,25, 233,45, 235,30, 238,25, 241,12, 245,10, 249,5, 252,3, 255,10, 257,40, 259,90, 260,125, 261,60, 262,150, 263,120, 265,40, 267,20];
const BR5_MD = [1,150, 2,85, 3,35, 4,18, 6,8, 8,7, 10,10, 12,45, 13,58, 14,32, 15,12, 18,8, 22,10, 26,7, 30,12, 31,52, 32,80, 33,42, 35,12, 37,22, 38,36, 39,22, 41,10, 44,12, 46,18, 48,42, 50,22, 52,10, 56,7, 60,7, 63,10, 65,22, 66,7, 70,5, 75,7, 80,7, 83,12, 85,45, 86,42, 87,22, 89,10, 92,12, 95,37, 97,42, 98,32, 100,15, 103,12, 106,22, 108,28, 110,12, 113,18, 115,28, 117,18, 120,12, 122,22, 124,12, 127,12, 129,27, 131,22, 133,17, 135,7, 140,5, 145,5, 150,7, 153,17, 156,32, 158,27, 160,10, 165,5, 170,4, 175,5, 180,5, 185,5, 190,7, 192,17, 194,7, 198,7, 200,14, 203,10, 206,10, 210,10, 214,7, 217,10, 219,65, 220,128, 221,115, 222,45, 224,28, 226,22, 228,20, 230,28, 233,48, 235,32, 238,28, 241,14, 245,12, 249,7, 252,5, 255,12, 257,42, 259,92, 260,127, 261,62, 262,150, 263,125, 265,45, 267,25];
// 2PIA
const PIA_CUT = [1,15, 3,12, 5,15, 7,10, 10,8, 14,10, 17,20, 19,8, 22,6, 26,5, 30,5, 33,10, 36,15, 38,28, 40,12, 45,8, 48,10, 52,12, 55,6, 60,5, 65,8, 70,5, 75,8, 78,38, 80,15, 85,12, 89,12, 92,15, 93,12, 94,10, 98,8, 102,10, 106,12, 108,40, 110,72, 111,40, 113,8, 117,5, 119,8, 121,5, 125,3, 130,3, 134,5, 137,20, 139,8, 143,5, 146,10, 148,12, 150,8, 153,5, 156,10, 159,45, 161,97, 163,80, 165,90, 167,40, 170,0, 172,60, 175,120, 177,100, 179,60, 181,60, 183,45, 186,50, 188,30, 190,30, 192,20, 194,8, 197,10, 200,15, 202,20, 205,15, 208,20, 212,35, 215,55, 217,30, 220,15, 223,20, 226,30, 228,25, 231,40, 233,20, 235,10, 238,20, 240,25, 242,20, 244,50, 246,45, 248,15, 251,10, 254,15, 256,20, 258,15, 260,10, 262,15, 264,20, 266,15, 268,10, 270,12, 273,15, 276,20, 278,15, 280,10, 283,15, 285,12, 287,10, 289,5, 292,8, 295,15, 298,50, 300,20, 303,15, 305,5, 307,3, 310,5, 313,10, 316,15, 318,10, 321,28];
const PIA_INV = [1,22, 3,30, 5,35, 6,20, 7,12, 10,10, 14,8, 18,10, 22,8, 24,20, 26,8, 30,8, 32,40, 33,80, 34,30, 36,10, 40,10, 45,8, 48,10, 52,12, 55,6, 60,5, 65,8, 70,5, 75,10, 78,35, 80,15, 85,12, 89,12, 92,15, 93,12, 94,10, 98,8, 102,10, 106,15, 108,30, 110,55, 111,30, 113,8, 117,5, 119,8, 121,5, 125,5, 130,5, 134,10, 137,55, 139,15, 143,8, 146,12, 148,15, 150,8, 153,8, 156,15, 159,30, 161,55, 163,50, 165,40, 167,25, 170,15, 172,80, 175,147, 177,145, 179,60, 181,60, 183,40, 186,40, 188,45, 190,68, 192,35, 194,15, 197,15, 200,20, 202,25, 205,20, 208,30, 212,45, 215,50, 217,30, 220,15, 223,20, 226,25, 228,20, 231,75, 233,30, 235,15, 238,20, 240,25, 242,20, 244,45, 246,40, 248,15, 251,10, 254,15, 256,20, 258,15, 260,10, 262,15, 264,20, 266,15, 268,10, 270,12, 273,15, 276,20, 278,15, 280,10, 283,15, 285,12, 287,10, 289,5, 292,10, 295,25, 298,63, 300,25, 303,15, 305,5, 307,3, 310,8, 313,15, 316,20, 318,15, 321,25];
const PIA_ED = [1,55, 3,50, 5,58, 6,30, 7,15, 10,10, 14,8, 18,10, 22,6, 26,5, 30,5, 33,10, 36,8, 40,10, 45,8, 48,12, 52,20, 55,8, 60,5, 65,10, 70,5, 75,8, 78,25, 80,10, 85,10, 89,15, 92,35, 93,45, 94,20, 98,8, 102,10, 106,15, 109,8, 111,10, 113,5, 117,8, 119,20, 121,8, 125,5, 130,5, 134,8, 137,30, 139,10, 143,8, 146,20, 148,30, 150,12, 153,10, 156,20, 159,20, 161,25, 163,30, 165,45, 167,20, 170,15, 172,40, 175,85, 177,70, 179,40, 181,55, 183,30, 186,30, 188,25, 190,35, 192,25, 194,10, 197,15, 200,30, 202,35, 205,20, 208,25, 212,40, 215,70, 217,40, 220,20, 223,25, 226,55, 228,40, 231,30, 233,25, 235,15, 238,30, 240,40, 242,25, 244,45, 246,35, 248,20, 251,15, 254,25, 256,40, 258,25, 260,15, 262,25, 264,38, 266,25, 268,15, 270,20, 273,25, 276,45, 278,30, 280,20, 283,22, 285,25, 287,15, 289,10, 292,15, 295,25, 298,60, 300,35, 303,25, 305,10, 307,5, 310,8, 313,15, 316,20, 318,15, 321,20];
const PIA_MD = [1,62, 3,58, 5,65, 6,35, 7,18, 10,12, 14,10, 18,12, 22,8, 26,7, 30,7, 33,12, 36,10, 40,12, 45,10, 48,15, 52,25, 55,10, 60,7, 65,18, 70,7, 75,10, 78,30, 80,12, 85,12, 89,18, 92,40, 93,48, 94,22, 98,10, 102,12, 106,20, 109,10, 111,12, 113,7, 117,10, 119,22, 121,10, 125,7, 130,7, 134,10, 137,35, 139,12, 143,10, 146,22, 148,30, 150,15, 153,12, 156,25, 159,25, 161,30, 163,40, 165,65, 167,25, 170,20, 172,45, 175,90, 177,75, 179,45, 181,60, 183,35, 186,35, 188,30, 190,40, 192,30, 194,12, 197,18, 200,35, 202,38, 205,22, 208,28, 212,45, 215,75, 217,45, 220,22, 223,28, 226,60, 228,45, 231,35, 233,28, 235,18, 238,35, 240,42, 242,28, 244,50, 246,40, 248,22, 251,18, 254,28, 256,45, 258,28, 260,18, 262,28, 264,45, 266,28, 268,18, 270,22, 273,28, 276,48, 278,32, 280,22, 283,25, 285,28, 287,18, 289,12, 292,18, 295,28, 298,62, 300,38, 303,28, 305,12, 307,7, 310,10, 313,18, 316,22, 318,18, 321,25];
// 1E9S
const E9S_CUT = [1,3, 100,2, 200,3, 270,3, 284,75, 295,3, 395,3, 400,200, 408,3, 415,200, 425,3, 500,2, 600,3, 700,2, 800,3, 850,3, 858,200, 866,3, 950,2, 1050,3, 1150,2, 1250,3, 1300,2, 1400,3, 1500,2, 1550,3, 1560,58, 1570,3, 1650,2, 1750,3, 1800,2, 1813,28, 1825,3, 1900,2, 2000,3, 2100,2, 2200,3, 2300,2, 2400,3, 2500,2];
const E9S_INV = [1,10, 25,5, 33,200, 40,5, 60,8, 90,12, 120,5, 150,10, 180,15, 210,5, 240,12, 270,5, 300,10, 330,5, 360,12, 390,8, 405,55, 420,10, 440,200, 452,10, 475,200, 487,8, 520,10, 560,5, 600,12, 640,5, 680,10, 720,8, 760,12, 800,10, 830,15, 850,20, 870,200, 882,10, 920,12, 960,5, 1000,10, 1040,5, 1080,12, 1120,5, 1160,10, 1200,15, 1230,10, 1260,20, 1290,10, 1304,200, 1314,10, 1350,8, 1390,10, 1430,5, 1470,12, 1510,5, 1550,10, 1590,8, 1620,45, 1640,5, 1680,10, 1720,8, 1733,137, 1745,8, 1780,10, 1820,5, 1860,12, 1900,5, 1940,10, 1980,5, 2020,10, 2060,5, 2100,12, 2125,52, 2140,10, 2153,200, 2165,10, 2200,5, 2240,12, 2280,5, 2320,10, 2360,5, 2400,12, 2440,5, 2480,10, 2500,38];
const E9S_ED = [1,12, 20,3, 40,15, 60,4, 80,20, 100,5, 120,22, 140,4, 160,18, 180,5, 194,60, 205,5, 225,30, 240,4, 260,20, 284,55, 295,5, 315,18, 335,4, 355,20, 375,4, 395,12, 415,5, 435,15, 455,4, 475,20, 495,4, 515,18, 535,5, 555,15, 575,4, 595,18, 615,4, 640,12, 660,5, 680,20, 701,30, 715,5, 735,15, 755,4, 775,20, 790,5, 804,60, 820,5, 840,15, 860,4, 880,12, 900,5, 920,15, 940,4, 960,15, 980,5, 1000,14, 1020,4, 1040,15, 1060,5, 1084,48, 1100,5, 1120,15, 1140,4, 1160,12, 1180,4, 1200,20, 1220,5, 1240,40, 1261,68, 1277,60, 1290,5, 1310,12, 1330,4, 1350,20, 1370,5, 1390,15, 1410,4, 1430,15, 1450,5, 1470,20, 1490,4, 1511,47, 1530,5, 1550,25, 1575,40, 1590,5, 1610,20, 1630,5, 1650,15, 1670,5, 1697,38, 1715,5, 1735,15, 1755,4, 1775,20, 1795,5, 1815,25, 1835,48, 1855,5, 1875,28, 1895,12, 1913,40, 1935,5, 1952,50, 1970,30, 1990,40, 2010,8, 2025,40, 2045,5, 2065,12, 2085,5, 2105,20, 2121,30, 2140,5, 2160,15, 2186,30, 2200,5, 2220,15, 2240,4, 2260,15, 2280,5, 2300,20, 2320,5, 2335,45, 2352,57, 2370,5, 2390,15, 2410,4, 2430,12, 2450,3, 2470,8, 2500,3];
const E9S_MD = [1,20, 20,5, 40,25, 60,8, 80,30, 100,10, 120,35, 140,8, 160,30, 180,10, 194,73, 205,10, 225,45, 240,8, 260,30, 284,82, 295,10, 315,28, 335,8, 355,30, 375,8, 395,20, 415,10, 435,25, 455,8, 475,30, 495,8, 515,28, 535,10, 555,25, 575,8, 595,28, 615,8, 640,20, 660,10, 680,30, 701,48, 715,10, 735,25, 755,8, 775,30, 790,10, 804,80, 820,10, 840,25, 860,8, 880,20, 900,10, 920,25, 940,8, 960,25, 980,10, 1000,22, 1020,8, 1040,25, 1060,10, 1084,72, 1100,10, 1120,25, 1140,8, 1160,20, 1180,8, 1200,30, 1220,10, 1240,50, 1261,90, 1277,80, 1290,10, 1310,20, 1330,8, 1350,35, 1370,10, 1390,25, 1410,8, 1430,25, 1450,10, 1470,30, 1490,8, 1511,63, 1530,10, 1550,40, 1575,55, 1590,10, 1610,30, 1630,10, 1650,25, 1670,10, 1697,60, 1715,10, 1735,25, 1755,8, 1775,30, 1795,10, 1815,35, 1835,65, 1855,10, 1875,40, 1895,20, 1913,60, 1935,10, 1952,65, 1970,40, 1990,55, 2010,15, 2025,55, 2045,10, 2065,20, 2085,10, 2105,30, 2121,52, 2140,10, 2160,25, 2186,43, 2200,10, 2220,25, 2240,8, 2260,25, 2280,10, 2300,30, 2320,10, 2335,50, 2352,85, 2370,10, 2390,25, 2410,8, 2430,20, 2450,5, 2470,15, 2500,5];

const CUTOFF = [OPC_CUT, FAS_CUT, FVQ_CUT, OOI_CUT, BSN_CUT, CHN_CUT, GND_CUT, CZT_CUT, SUR_CUT, BR5_CUT, PIA_CUT, E9S_CUT];
const INVERSE = [OPC_INV, FAS_INV, FVQ_INV, OOI_INV, BSN_INV, CHN_INV, GND_INV, CZT_INV, SUR_INV, BR5_INV, PIA_INV, E9S_INV];
const ED = [OPC_ED, FAS_ED, FVQ_ED, OOI_ED, BSN_ED, CHN_ED, GND_ED, CZT_ED, SUR_ED, BR5_ED, PIA_ED, E9S_ED];
const MD = [OPC_MD, FAS_MD, FVQ_MD, OOI_MD, BSN_MD, CHN_MD, GND_MD, CZT_MD, SUR_MD, BR5_MD, PIA_MD, E9S_MD];

// ---------- styling ----------
const COLORS = { cutoff: '#e8000b', inverse: '#84f23c', ed: '#0a0aff', md: '#ff10ff' };
const PANEL_LEFTS = [253, 598, 943];
const PANEL_TOPS = [132, 375, 618, 860];
const PW = 260;
const PH = 165;
const SANS = '"Liberation Sans", Arial, Helvetica, sans-serif';

const toPairs = (a: number[]): [number, number][] => {
  const r: [number, number][] = [];
  for (let i = 0; i + 1 < a.length; i += 2) r.push([a[i], a[i + 1]]);
  return r;
};

function Panel({ idx }: { idx: number }) {
  const col = idx % 3;
  const row = Math.floor(idx / 3);
  const left = PANEL_LEFTS[col];
  const top = PANEL_TOPS[row];
  const x = d3.scaleLinear().domain(X_DOMAINS[idx]).range([left, left + PW]);
  const y = d3.scaleLinear().domain([0, Y_MAX[idx]]).range([top + PH, top]);
  const line = d3.line<[number, number]>().x((d) => x(d[0])).y((d) => y(d[1]));
  const clipId = `clip-${idx}`;
  const sw = idx === 11 ? 1.8 : idx === 6 ? 2.2 : 2.8;
  const series: [number[], string][] = [
    [MD[idx], COLORS.md],
    [ED[idx], COLORS.ed],
    [CUTOFF[idx], COLORS.cutoff],
    [INVERSE[idx], COLORS.inverse],
  ];
  const tickC = '#555';
  return (
    <g>
      <defs>
        <clipPath id={clipId}>
          <rect x={left} y={top} width={PW} height={PH} />
        </clipPath>
      </defs>
      <g clipPath={`url(#${clipId})`}>
        {series.map(([data, color], i) => (
          <path key={i} d={line(toPairs(data)) || ''} fill="none" stroke={color} strokeWidth={sw} strokeLinejoin="round" />
        ))}
      </g>
      <rect x={left} y={top} width={PW} height={PH} fill="none" stroke="#555" strokeWidth={1} />
      {Y_TICKS[idx].map((t) => (
        <g key={`y${t}`}>
          <line x1={left} x2={left + 4} y1={y(t)} y2={y(t)} stroke={tickC} />
          <line x1={left + PW - 4} x2={left + PW} y1={y(t)} y2={y(t)} stroke={tickC} />
          <text x={left - 8} y={y(t)} dy="0.36em" textAnchor="end" fontSize={12.5} fontFamily={SANS} fill="#222">
            {t}
          </text>
        </g>
      ))}
      {X_TICKS[idx].map((t) => (
        <g key={`x${t}`}>
          <line x1={x(t)} x2={x(t)} y1={top + PH} y2={top + PH - 4} stroke={tickC} />
          <line x1={x(t)} x2={x(t)} y1={top} y2={top + 4} stroke={tickC} />
          <text x={x(t)} y={top + PH + 19.5} textAnchor="middle" fontSize={12.5} fontFamily={SANS} fill="#222">
            {t}
          </text>
        </g>
      ))}
      <text x={left + PW / 2} y={top - 12} textAnchor="middle" fontSize={14} fontFamily={SANS} fill="#222">
        {PANEL_NAMES[idx]}
      </text>
      <text x={left + PW / 2} y={top + PH + 37} textAnchor="middle" fontSize={14} fontFamily={SANS} fill="#222">
        Residue
      </text>
      <text
        transform={`translate(${left - 51},${top + PH / 2}) rotate(-90)`}
        textAnchor="middle"
        dy="0.35em"
        fontSize={14}
        fontFamily={SANS}
        fill="#222"
      >
        B-Factor
      </text>
    </g>
  );
}

export default function App() {
  const headerX = [395, 742, 1078];
  const rowBase = [[209], [478], [709], [940, 978]];
  const legendText = [250, 490, 752, 933];
  const legendLine = [[345, 463], [600, 718], [805, 915], [990, 1103]];
  const legendColors = [COLORS.cutoff, COLORS.inverse, COLORS.ed, COLORS.md];
  const legendY = 1097;
  return (
    <svg width={1219} height={1110} style={{ position: 'absolute', left: 0, top: 0, background: '#fff' }}>
      <rect x={0} y={0} width={1219} height={1110} fill="#fff" />
      {COLUMN_HEADERS.map((h, i) => (
        <text key={h} x={headerX[i]} y={65} textAnchor="middle" fontSize={72} fontFamily='"Liberation Serif", "Times New Roman", serif' fill="#000">
          {h}
        </text>
      ))}
      {ROW_LABELS.map((lines, r) =>
        lines.map((s, k) => (
          <text key={`${r}-${k}`} x={10} y={rowBase[r][k]} fontSize={31.5} fontWeight="bold" fontFamily='"DejaVu Sans", sans-serif' fill="#000">
            {s}
          </text>
        ))
      )}
      {PANEL_NAMES.map((_, i) => (
        <Panel key={i} idx={i} />
      ))}
      {LEGEND_LABELS.map((l, i) => (
        <g key={l}>
          <text x={legendText[i]} y={legendY + 7} fontSize={21} fontWeight="bold" fontFamily='"DejaVu Sans", sans-serif' fill="#000">
            {l}
          </text>
          <line x1={legendLine[i][0]} x2={legendLine[i][1]} y1={legendY} y2={legendY} stroke={legendColors[i]} strokeWidth={10} strokeLinecap="round" />
        </g>
      ))}
    </svg>
  );
}
